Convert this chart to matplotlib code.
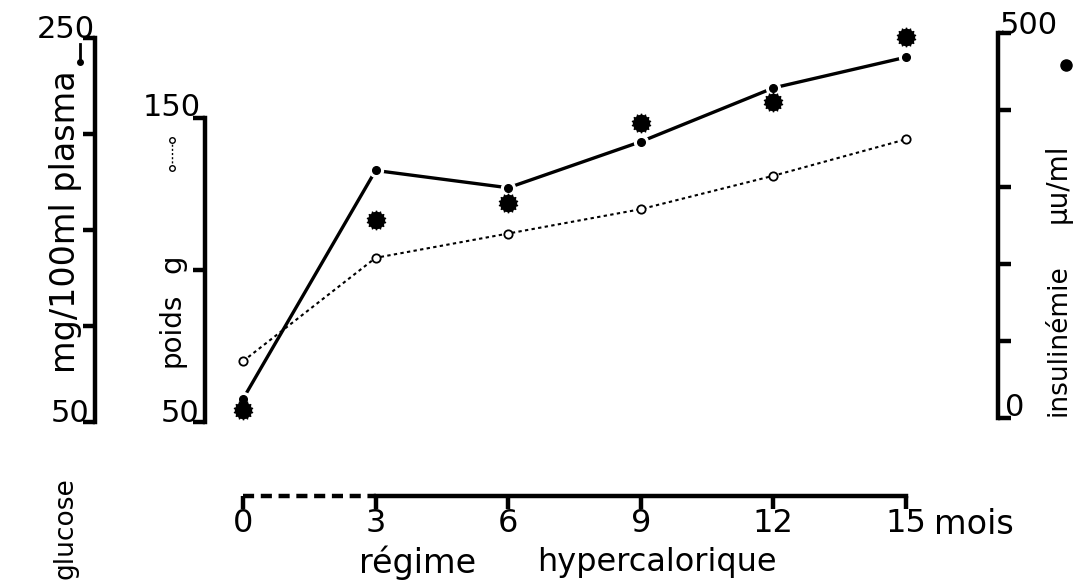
import matplotlib
matplotlib.use("Agg")
import matplotlib.pyplot as plt
from matplotlib.lines import Line2D

# data (months of hypercaloric diet)
months = [0, 3, 6, 9, 12, 15]
glucose = [62, 181, 172, 196, 224, 240]      # mg/100ml plasma
weight = [70, 104, 112, 120, 131, 143]       # g
insulin = [10, 257, 279, 383, 410, 495]      # µu/ml

x_ticks = [0, 3, 6, 9, 12, 15]
x_labels = ["0", "3", "6", "9", "12", "15"]
glucose_ticks = [50, 100, 150, 200, 250]
weight_ticks = [50, 100, 150]
insulin_ticks = [0, 100, 200, 300, 400, 500]

plt.rcParams["font.family"] = "DejaVu Sans"
W, H = 1086, 583
fig = plt.figure(figsize=(W / 100, H / 100), dpi=100)

def px_axes(x0, x1, ytop, ybot):
    return fig.add_axes([x0 / W, (H - ybot) / H, (x1 - x0) / W, (ybot - ytop) / H])

ax_g = px_axes(243, 906, 38, 422)
ax_w = px_axes(243, 906, 118, 422)
ax_i = px_axes(243, 906, 33, 418)

for ax in (ax_g, ax_w, ax_i):
    ax.set_xlim(0, 15)
    ax.patch.set_visible(False)
    for s in ax.spines.values():
        s.set_visible(False)
    ax.tick_params(which="both", bottom=False, left=False, right=False, top=False,
                   labelbottom=False, labelleft=False, labelright=False)

ax_g.set_ylim(50, 250)
ax_w.set_ylim(50, 150)
ax_i.set_ylim(0, 500)

lw_axis = 3.2
fs_tick = 22
fs_lab = 24

# glucose axis (far left)
gx = (95 - 243) / 663
sp = ax_g.spines["left"]
sp.set_visible(True)
sp.set_position(("axes", gx))
sp.set_linewidth(lw_axis)
ax_g.set_yticks(glucose_ticks)
ax_g.tick_params(axis="y", left=True, direction="out", length=9, width=lw_axis)

# weight axis
wx = (205 - 243) / 663
sp = ax_w.spines["left"]
sp.set_visible(True)
sp.set_position(("axes", wx))
sp.set_linewidth(lw_axis)
ax_w.set_yticks(weight_ticks)
ax_w.tick_params(axis="y", left=True, direction="out", length=9, width=lw_axis)

# insulin axis (right)
ix = (998 - 243) / 663
sp = ax_i.spines["right"]
sp.set_visible(True)
sp.set_position(("axes", ix))
sp.set_linewidth(lw_axis)
ax_i.set_yticks(insulin_ticks)
ax_i.tick_params(axis="y", right=True, direction="out", length=9, width=lw_axis)

# time axis: dashed before month 3, solid afterwards
x_axis_pos = (422 - 496) / 384
sp = ax_g.spines["bottom"]
sp.set_visible(True)
sp.set_position(("axes", x_axis_pos))
sp.set_bounds(x_ticks[1], x_ticks[-1])
sp.set_linewidth(lw_axis)
ax_g.plot(x_ticks[:2], [x_axis_pos] * 2, transform=ax_g.get_xaxis_transform(),
          color="black", lw=lw_axis, ls=(0, (2.5, 1.5)), clip_on=False)
ax_g.set_xticks(x_ticks)
ax_g.set_xticklabels(x_labels)
ax_g.tick_params(axis="x", bottom=True, labelbottom=True, direction="out",
                 length=9, width=lw_axis, labelsize=fs_tick + 1, pad=0)
ax_g.annotate("mois", xy=(x_ticks[-1], x_axis_pos), xycoords=ax_g.get_xaxis_transform(),
              xytext=(28, -28), textcoords="offset pixels", ha="left", va="center",
              fontsize=fs_lab)

# x title in two words, as in the original
fig.text(418 / W, 1 - 563 / H, "régime", ha="center", va="center", fontsize=fs_lab)
fig.text(657 / W, 1 - 563 / H, "hypercalorique", ha="center", va="center", fontsize=fs_lab - 1)

# end labels of the y scales
def end_label(ax, x, y, txt, dx, dy, ha):
    ax.annotate(txt, xy=(x, y), xycoords=ax.get_yaxis_transform(), xytext=(dx, dy),
                textcoords="offset pixels", ha=ha, va="center", fontsize=fs_tick)

end_label(ax_g, gx, glucose_ticks[-1], "250", 0, 8, "right")
end_label(ax_g, gx, glucose_ticks[0], "50", -6, 8, "right")
end_label(ax_w, wx, weight_ticks[-1], "150", -4, 11, "right")
end_label(ax_w, wx, weight_ticks[0], "50", -6, 8, "right")
end_label(ax_i, ix, insulin_ticks[-1], "500", 2, 8, "left")
end_label(ax_i, ix, insulin_ticks[0], "0", 7, 10, "left")

# series
ax_g.plot(months, glucose, color="black", lw=2.4, clip_on=False, zorder=3)
ax_g.plot(months, glucose, ls="none", marker="o", ms=10, color="white",
          clip_on=False, zorder=3.1)
ax_g.plot(months, glucose, ls="none", marker="o", ms=5.5, color="black",
          clip_on=False, zorder=3.2)
ax_w.plot(months, weight, color="black", lw=1.5, ls=(0, (1.6, 1.6)), marker="o", ms=6,
          mfc="white", mec="black", mew=1.3, clip_on=False, zorder=3)
ax_i.plot(months, insulin, ls="none", marker=(14, 1, 0), ms=14, color="black",
          clip_on=False, zorder=4)
ax_i.plot(months, insulin, ls="none", marker="o", ms=11.5, color="black",
          clip_on=False, zorder=4)

# axis titles
fig.text(65 / W, 1 - 528 / H, "glucose", rotation=90, ha="center", va="center", fontsize=19)
fig.text(66 / W, 1 - 222 / H, "mg/100ml plasma", rotation=90, ha="center", va="center",
         fontsize=fs_lab)
fig.text(172 / W, 1 - 330 / H, "poids", rotation=90, ha="center", va="center", fontsize=20)
fig.text(172 / W, 1 - 264 / H, "g", rotation=90, ha="center", va="center", fontsize=21)
fig.text(1058 / W, 1 - 340 / H, "insulinémie", rotation=90, ha="center", va="center",
         fontsize=19)
fig.text(1058 / W, 1 - 183 / H, "µu/ml", rotation=90, ha="center", va="center", fontsize=20)

# little keys next to the titles
fig.add_artist(Line2D([80 / W, 80 / W], [1 - 44 / H, 1 - 62 / H], color="black", lw=2,
                      marker="o", ms=4, markevery=[1]))
fig.add_artist(Line2D([172 / W, 172 / W], [1 - 140 / H, 1 - 168 / H], color="black", lw=1,
                      ls=(0, (1.5, 1.5)), marker="o", ms=4, mfc="white"))
fig.add_artist(Line2D([1066 / W], [1 - 65 / H], color="black", marker="o", ms=8, ls="none"))

fig.savefig("out.png", dpi=100)
